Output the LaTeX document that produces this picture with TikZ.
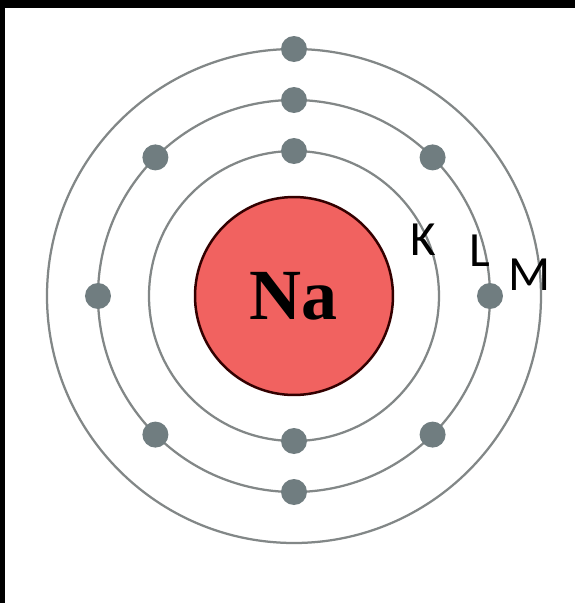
\documentclass[tikz,border=0pt]{standalone}
\usepackage{fontspec}
\setmainfont{Liberation Serif}
\newfontfamily\labelfont{Carlito}
\usetikzlibrary{positioning}

\definecolor{nucleusred}{RGB}{241,98,96}
\definecolor{shellgray}{RGB}{130,135,135}
\definecolor{electrongray}{RGB}{112,125,128}

\tikzset{
  shell/.style={draw=shellgray,line width=0.045cm},
  electron/.style={circle,fill=electrongray,inner sep=0pt,minimum size=0.52cm},
  shelllabel/.style={font=\labelfont\fontsize{28}{28}\selectfont,inner sep=0pt}
}

\begin{document}
\begin{tikzpicture}[x=0.02cm,y=0.02cm]
  % frame of the picture
  \useasboundingbox[fill=white] (-294,-307) rectangle (281,296);
  \fill[black] (-294,288) rectangle (281,296);
  \fill[black] (-294,-307) rectangle (-289,296);

  % shells
  \draw[shell] (0,0) circle[radius=145];
  \draw[shell] (0,0) circle[radius=196];
  \draw[shell] (0,0) circle[radius=247];

  % nucleus
  \node[circle,draw=black!80!red,line width=0.05cm,fill=nucleusred,minimum size=3.96cm,
    font=\bfseries\fontsize{41}{41}\selectfont] (na) at (0,0) {Na};

  % K shell
  \node[electron] (k1) at (0,145) {};
  \node[electron] (k2) at (0,-145) {};
  % L shell
  \node[electron] (l1) at (90:196) {};
  \node[electron] (l2) at (45:196) {};
  \node[electron] (l3) at (0:196) {};
  \node[electron] (l4) at (-45:196) {};
  \node[electron] (l5) at (-90:196) {};
  \node[electron] (l6) at (-135:196) {};
  \node[electron] (l7) at (180:196) {};
  \node[electron] (l8) at (135:196) {};
  % M shell
  \node[electron] (m1) at (0,247) {};

  % labels
  \node[shelllabel] (kl) at (129,56) {K};
  \node[shelllabel] (ll) at (186,45) {L};
  \node[shelllabel] (ml) at (236,21) {M};
\end{tikzpicture}
\end{document}
